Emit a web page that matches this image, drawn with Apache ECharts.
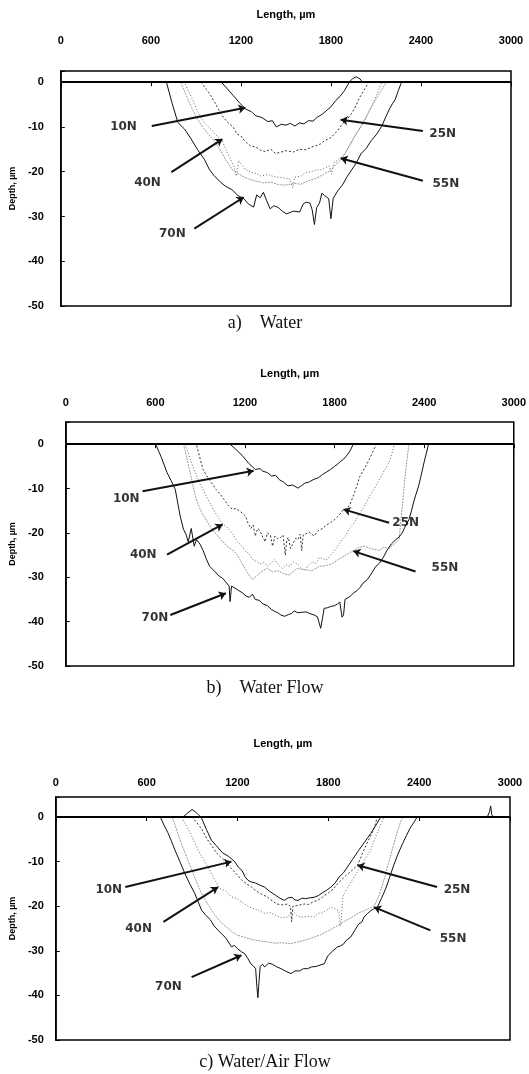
<!DOCTYPE html>
<html>
<head>
<meta charset="utf-8">
<script src="https://cdn.jsdelivr.net/npm/echarts@6/dist/echarts.min.js"></script>
<style>
html, body { margin: 0; padding: 0; background: #fff; }
#chart { width: 529px; height: 1074px; }
</style>
</head>
<body>
<div id="chart"></div>
<script>
// load cases, captions, axis ticks
var forceLabels = ["10N", "25N", "40N", "55N", "70N"];
var captions = ["a)    Water", "b)    Water Flow", "c) Water/Air Flow"];
var xTicks = [0, 600, 1200, 1800, 2400, 3000];
var yTicks = [-50, -40, -30, -20, -10, 0];

// a) Water  -- [length um, depth um]
var water10 = [[0,0],[1070,0],[1110,-1.5],[1150,-3],[1190,-4.6],[1232,-6],[1270,-6.6],[1300,-7.5],[1340,-7.9],[1380,-8.8],[1410,-8.6],[1436,-10],[1470,-9.4],[1500,-9.6],[1530,-9.2],[1560,-9.8],[1590,-9.1],[1620,-9.3],[1650,-8.6],[1680,-8.7],[1710,-7.8],[1745,-7.1],[1775,-6.2],[1800,-5.5],[1832,-4.1],[1860,-3.2],[1890,-1.9],[1922,0],[1945,0.8],[1970,1.2],[1995,0.7],[2010,0],[3000,0]];
var water25 = [[0,0],[934,0],[970,-1.6],[1000,-3],[1040,-5.4],[1075,-7.5],[1110,-8.9],[1150,-10.1],[1175,-11.6],[1200,-12],[1230,-13.3],[1263,-14.2],[1300,-14.5],[1330,-15.2],[1360,-15.5],[1400,-15],[1430,-15.9],[1460,-15.7],[1500,-15.3],[1550,-15.6],[1590,-15],[1634,-15.1],[1670,-14.5],[1700,-14.2],[1730,-13.8],[1760,-13],[1790,-12.6],[1811,-12],[1845,-10.8],[1876,-9.3],[1910,-8.2],[1942,-6.8],[1970,-5],[1990,-3.5],[2020,-1.8],[2052,0],[3000,0]];
var water40 = [[0,0],[825,0],[850,-2],[880,-4],[905,-6.1],[934,-8],[965,-9.4],[1000,-10.5],[1040,-12],[1075,-13],[1110,-15.8],[1153,-18.7],[1170,-21],[1185,-17.5],[1200,-18.2],[1230,-19.5],[1260,-20],[1300,-20.4],[1335,-21],[1380,-20.6],[1420,-21.1],[1470,-21.3],[1526,-21.6],[1545,-23.6],[1560,-21.2],[1600,-21],[1635,-20.2],[1668,-20],[1705,-19.6],[1740,-19.5],[1789,-18.7],[1805,-20.6],[1820,-18],[1850,-17.3],[1898,-15.7],[1930,-13.8],[1960,-12],[2000,-10],[2031,-8.3],[2060,-6],[2090,-4],[2115,-2],[2139,0],[3000,0]];
var water55 = [[0,0],[800,0],[830,-2.5],[860,-4.8],[900,-7.6],[940,-9.8],[980,-11.5],[1020,-13],[1060,-15],[1100,-17.4],[1150,-19.8],[1200,-20.8],[1250,-21.6],[1300,-22.1],[1350,-22.5],[1400,-22.3],[1450,-22.9],[1500,-23],[1550,-22.6],[1600,-22.8],[1650,-22],[1700,-21.5],[1750,-20.6],[1800,-19.6],[1850,-17.8],[1876,-17],[1910,-15],[1950,-12.6],[2000,-9.8],[2050,-6.8],[2100,-3.8],[2140,-1.6],[2170,0],[3000,0]];
var water70 = [[0,0],[704,0],[740,-4.5],[780,-9],[825,-10.5],[869,-12.7],[910,-15],[956,-17.2],[990,-19.5],[1022,-20.9],[1066,-22.4],[1100,-23.3],[1140,-24],[1180,-25.3],[1219,-26],[1250,-27.2],[1285,-27.9],[1305,-25.2],[1330,-25.8],[1350,-24.6],[1372,-26.5],[1395,-28.3],[1420,-27.6],[1450,-28],[1475,-28.8],[1503,-29.4],[1530,-29.1],[1550,-28.8],[1592,-29],[1615,-27.2],[1635,-26.8],[1660,-27],[1675,-28.5],[1690,-31.8],[1705,-28],[1724,-27],[1740,-24.8],[1756,-25.3],[1785,-26],[1800,-30.5],[1815,-26],[1845,-24.3],[1876,-23],[1910,-21],[1942,-19.4],[1970,-18],[2000,-16],[2035,-14.8],[2070,-13],[2105,-11.6],[2139,-9.8],[2165,-7.8],[2190,-6],[2210,-4.8],[2229,-3.8],[2250,-1.8],[2271,0],[3000,0]];

// b) Water Flow
var flow10 = [[0,0],[1100,0],[1140,-1.2],[1180,-2.5],[1225,-4.3],[1269,-5.7],[1300,-5.5],[1320,-6.1],[1350,-6.4],[1379,-7.2],[1405,-7],[1430,-8],[1460,-8.6],[1488,-9.4],[1520,-9.2],[1554,-9.9],[1580,-9.3],[1600,-8.8],[1630,-8.5],[1663,-7.9],[1690,-7.6],[1720,-6.8],[1745,-6.3],[1773,-5.7],[1800,-5],[1820,-4.5],[1840,-3.9],[1860,-3.4],[1880,-2.6],[1904,-1.5],[1925,0],[3000,0]];
var flow25 = [[0,0],[875,0],[895,-2.7],[919,-5.7],[940,-6.9],[960,-8],[985,-9.1],[1006,-10.2],[1035,-11.3],[1060,-12.5],[1090,-13.9],[1116,-14.7],[1140,-14.5],[1160,-15],[1185,-15.6],[1203,-16.2],[1220,-17.8],[1240,-19],[1255,-18.2],[1269,-20.7],[1285,-19],[1300,-19.5],[1320,-21],[1335,-22],[1350,-20],[1370,-20.5],[1385,-23],[1400,-20.7],[1420,-21.3],[1440,-21],[1455,-20.5],[1470,-25],[1480,-21.5],[1490,-21],[1505,-23.5],[1520,-22.5],[1540,-21.2],[1554,-21.5],[1570,-20.3],[1580,-24],[1590,-20.5],[1600,-20.5],[1630,-19.8],[1663,-20.7],[1690,-19.5],[1720,-19],[1745,-18.2],[1773,-17.7],[1800,-17],[1830,-16],[1860,-14.7],[1885,-14.5],[1904,-13.5],[1935,-10.8],[1970,-7.2],[2000,-5.5],[2030,-3.6],[2055,-1.8],[2079,0],[3000,0]];
var flow40 = [[0,0],[800,0],[825,-2.5],[850,-5],[875,-7],[900,-9],[930,-11],[960,-13],[1000,-15.4],[1050,-18],[1075,-18.6],[1100,-19.5],[1125,-20.6],[1150,-22],[1175,-22.8],[1200,-24],[1225,-24.6],[1250,-26],[1275,-26.4],[1300,-27],[1325,-26.6],[1350,-27.5],[1375,-26.8],[1400,-26],[1425,-27.3],[1450,-28],[1475,-27.2],[1500,-27.5],[1525,-26.6],[1550,-27],[1575,-27.8],[1600,-28.5],[1625,-27.3],[1650,-26.5],[1675,-26.9],[1700,-25.5],[1725,-25.9],[1750,-26],[1775,-25],[1800,-24],[1825,-22.8],[1850,-21.5],[1875,-20.6],[1900,-19],[1930,-17.8],[1960,-16],[2000,-14],[2035,-11.7],[2070,-9.8],[2100,-8],[2135,-5.8],[2166,-4],[2185,-2],[2200,0],[3000,0]];
var flow55 = [[0,0],[788,0],[810,-3],[830,-6],[850,-9],[870,-12],[895,-14.3],[920,-16],[960,-18.2],[1000,-20],[1040,-21.6],[1080,-23],[1115,-23.8],[1150,-25],[1175,-26.6],[1200,-28],[1225,-29.4],[1250,-30.5],[1275,-29.8],[1300,-29],[1325,-28.4],[1350,-28],[1385,-28.8],[1420,-28.5],[1460,-29.2],[1500,-29.5],[1525,-28.6],[1550,-28],[1600,-28.3],[1650,-28.5],[1700,-27.5],[1740,-27.4],[1780,-27],[1815,-26.2],[1850,-25.5],[1890,-24.7],[1926,-24],[1960,-23.3],[2000,-23],[2050,-23.6],[2100,-24],[2130,-23.2],[2166,-23.5],[2200,-22.5],[2232,-21.5],[2245,-17],[2255,-13.5],[2270,-8],[2285,-3.5],[2298,0],[3000,0]];
var flow70 = [[0,0],[602,0],[640,-3],[678,-6.4],[705,-8.2],[733,-10.2],[750,-13.3],[766,-16.2],[788,-19.2],[805,-20.3],[820,-22],[840,-19],[860,-23],[875,-21.5],[900,-22.6],[920,-24],[940,-25.8],[963,-27.5],[995,-28.6],[1029,-29.8],[1050,-30.2],[1070,-31],[1094,-32],[1100,-35.5],[1110,-32],[1140,-32.6],[1182,-33.5],[1210,-34.3],[1230,-34.5],[1250,-33.8],[1269,-35],[1295,-35.2],[1320,-36],[1350,-36.4],[1379,-37.3],[1400,-37.7],[1420,-38],[1440,-38.5],[1466,-38.8],[1490,-38.4],[1510,-38.2],[1530,-37.6],[1554,-38],[1580,-37.9],[1610,-37.8],[1635,-38.2],[1663,-38.5],[1685,-38.9],[1707,-41.5],[1720,-39],[1730,-37],[1750,-36.9],[1773,-36.6],[1800,-36.4],[1820,-36],[1835,-35.6],[1850,-39],[1860,-38.5],[1870,-35],[1904,-34.3],[1925,-33.6],[1950,-33],[1970,-32.3],[1991,-31.3],[2020,-30.5],[2050,-29],[2075,-27.6],[2101,-26.8],[2125,-25.6],[2150,-24],[2180,-22.5],[2210,-21.5],[2230,-21],[2253,-20],[2275,-18.4],[2298,-17],[2315,-15],[2330,-13],[2345,-11.3],[2363,-9.4],[2380,-7],[2400,-4],[2415,-2],[2429,0],[3000,0]];

// c) Water/Air Flow
var air10 = [[0,0],[840,0],[870,0.9],[900,1.7],[925,1.1],[945,0.4],[960,0],[995,-2.8],[1028,-5.2],[1060,-6.4],[1100,-8],[1140,-8.8],[1182,-10],[1205,-11.2],[1230,-12],[1250,-13.4],[1270,-14.2],[1295,-14.6],[1320,-14.8],[1350,-15.3],[1379,-15.7],[1410,-16.6],[1450,-17.5],[1480,-18.2],[1510,-18.7],[1535,-18.1],[1560,-18],[1580,-18.6],[1600,-18.7],[1625,-18.2],[1650,-18.3],[1680,-18.1],[1707,-18],[1735,-17.6],[1760,-17],[1790,-16.4],[1817,-15.7],[1845,-14.8],[1870,-13.5],[1900,-12.5],[1926,-11.2],[1960,-9.5],[2000,-7.5],[2040,-5.6],[2080,-3.7],[2115,-1.8],[2146,0],[3000,0]];
var air25 = [[0,0],[900,0],[930,-1.2],[960,-2.5],[1000,-5],[1030,-6.4],[1060,-8],[1090,-9],[1120,-10],[1160,-11.6],[1200,-13],[1230,-14.2],[1260,-15],[1290,-15.6],[1320,-16.5],[1360,-17.3],[1400,-18],[1430,-18.8],[1460,-19.5],[1500,-19.7],[1530,-19.5],[1550,-20],[1558,-23.5],[1566,-20],[1600,-19.8],[1640,-19.5],[1670,-19.6],[1700,-19],[1730,-18.7],[1760,-18],[1800,-17],[1830,-16.2],[1860,-15],[1890,-14],[1920,-13],[1955,-12],[1993,-10.8],[2015,-9],[2040,-7],[2065,-5.2],[2090,-3.5],[2110,-1.6],[2124,0],[3000,0]];
var air40 = [[0,0],[831,0],[855,-1.5],[880,-3],[910,-5.2],[941,-7.4],[970,-9.2],[1000,-11],[1040,-13.5],[1083,-16],[1120,-16.5],[1160,-17.9],[1190,-18.2],[1226,-19],[1260,-19.8],[1300,-20.5],[1340,-20.9],[1379,-21.6],[1415,-21.4],[1450,-22],[1490,-22.6],[1532,-22.4],[1560,-21],[1590,-22],[1620,-22.5],[1660,-22.3],[1707,-22.4],[1735,-21.6],[1760,-21.5],[1790,-20.9],[1817,-20.2],[1845,-20.6],[1870,-21],[1878,-24.5],[1886,-23],[1895,-18],[1904,-17.2],[1930,-15.7],[1960,-14],[1985,-12.6],[2014,-11.2],[2045,-9.3],[2080,-7.4],[2105,-5],[2130,-3],[2150,-1.4],[2168,0],[3000,0]];
var air55 = [[0,0],[770,0],[800,-3],[830,-6],[865,-9],[900,-12],[930,-14.6],[960,-17],[1000,-19.3],[1040,-21.5],[1080,-23.2],[1120,-24.5],[1160,-25.6],[1200,-26.5],[1250,-27],[1300,-27.5],[1350,-27.8],[1400,-28],[1450,-28.3],[1500,-28.2],[1550,-28.4],[1600,-28],[1650,-27.6],[1700,-27],[1750,-26.4],[1800,-25.5],[1850,-24.6],[1900,-23.5],[1950,-22.6],[2000,-21.5],[2050,-20.8],[2102,-20],[2135,-17.6],[2160,-15],[2180,-12.6],[2200,-10],[2225,-7],[2250,-4],[2270,-1.8],[2290,0],[3000,0]];
var air70 = [[0,0],[690,0],[715,-1.8],[740,-3.5],[765,-5.5],[787,-7.4],[820,-10],[853,-12.7],[885,-15],[919,-17.2],[940,-19],[963,-20.9],[990,-22],[1020,-23],[1045,-24.4],[1072,-25.4],[1095,-26.2],[1120,-27],[1140,-28],[1160,-29.1],[1180,-28.8],[1200,-29.5],[1225,-30.2],[1247,-30.6],[1270,-31.8],[1290,-33],[1305,-33.4],[1320,-34],[1328,-38],[1335,-40.5],[1342,-37],[1350,-33.5],[1365,-33],[1379,-33.6],[1405,-32.8],[1430,-33],[1460,-33.6],[1488,-34],[1520,-34.6],[1554,-35.1],[1580,-34.5],[1610,-34.5],[1635,-34],[1663,-34],[1690,-33.6],[1720,-33.5],[1745,-33.2],[1773,-32.9],[1790,-31.6],[1800,-31],[1830,-30],[1861,-29.1],[1880,-28.9],[1900,-28.5],[1920,-27.6],[1948,-26.9],[1975,-25.4],[2000,-24],[2020,-23.6],[2036,-22.4],[2060,-21.6],[2080,-21],[2100,-20.6],[2124,-20.2],[2150,-18.3],[2180,-16],[2205,-13.5],[2230,-11],[2260,-8.3],[2290,-6],[2315,-4.2],[2340,-2.5],[2365,-1.2],[2387,0],[2850,0],[2865,1.2],[2872,2.5],[2880,0.5],[2890,0],[3000,0]];

// label anchor [x, y] and arrow [fromX, fromY, toX, toY] in data units, order as forceLabels
var labelsA = [[418,-10],[2545,-11.6],[578,-22.4],[2566,-22.7],[743,-33.8]];
var arrowsA = [[606,-9.8,1230,-5.7],[2413,-10.9,1865,-8.4],[737,-20.1,1077,-12.7],[2413,-22,1865,-17],[890,-32.7,1219,-25.7]];
var labelsB = [[405,-12.3],[2276,-17.7],[519,-24.9],[2539,-27.9],[597,-39.2]];
var arrowsB = [[514,-10.6,1258,-6],[2165,-17.7,1860,-14.7],[678,-24.9,1050,-18.1],[2342,-28.7,1926,-24.1],[700,-38.5,1072,-33.6]];
var labelsC = [[350,-16.4],[2650,-16.4],[547,-25],[2624,-27.3],[744,-38.1]];
var arrowsC = [[459,-15.7,1160,-10],[2518,-15.7,1993,-10.8],[711,-23.5,1072,-15.7],[2474,-25.4,2102,-20.2],[897,-35.9,1226,-31]];

var panels = [
	{ series: [water10, water25, water40, water55, water70], labels: labelsA, arrows: arrowsA },
	{ series: [flow10, flow25, flow40, flow55, flow70], labels: labelsB, arrows: arrowsB },
	{ series: [air10, air25, air40, air55, air70], labels: labelsC, arrows: arrowsC },
];

// layout of the three stacked plots
var layout = [
	{ left: 54.5, top: 71, width: 456.5, height: 235, yMax: 2.5, xMargin: 25, xNameGap: 51, yMargin: 17, yNameGap: 41, captionY: 323 },
	{ left: 60, top: 422, width: 457, height: 244, yMax: 5, xMargin: 14, xNameGap: 43, yMargin: 22, yNameGap: 40, captionY: 688 },
	{ left: 53.5, top: 797, width: 456.5, height: 243, yMax: 4.5, xMargin: 9, xNameGap: 48, yMargin: 12, yNameGap: 37, captionY: 1062 },
];
var lineStyles = [
	{ color: "#111", width: 1, type: "solid" },
	{ color: "#333", width: 1, type: [2, 2] },
	{ color: "#666", width: 1, type: [1, 2] },
	{ color: "#999", width: 1, type: [2, 1] },
	{ color: "#111", width: 1, type: "solid" },
];

var axisFont = { color: "#000", fontFamily: "Liberation Sans", fontWeight: "bold", fontSize: 11 };

var chart = echarts.init(document.getElementById("chart"));
var option = { animation: false, grid: [], xAxis: [], yAxis: [], series: [], graphic: [] };

layout.forEach(function (l, i) {
	option.grid.push({ left: l.left, top: l.top, width: l.width, height: l.height, show: true, borderColor: "#000", borderWidth: 1.5, backgroundColor: "#fff" });
	option.xAxis.push({
		gridIndex: i, type: "value", position: "top",
		min: xTicks[0], max: xTicks[xTicks.length - 1], interval: xTicks[1] - xTicks[0],
		name: "Length, µm", nameLocation: "middle", nameGap: l.xNameGap,
		nameTextStyle: { color: "#000", fontFamily: "Liberation Sans", fontWeight: "bold", fontSize: 11 },
		axisLine: { show: true, lineStyle: { color: "#000", width: 1.5 } },
		axisTick: { show: true, inside: true, length: 4, lineStyle: { color: "#000" } },
		axisLabel: Object.assign({
			margin: l.xMargin,
			formatter: function (v) { return String(v); },
		}, axisFont),
		splitLine: { show: false },
	});
	option.yAxis.push({
		gridIndex: i, type: "value",
		min: yTicks[0], max: l.yMax, interval: yTicks[1] - yTicks[0],
		name: "Depth, µm", nameLocation: "middle", nameGap: l.yNameGap, nameRotate: 90,
		nameTextStyle: { color: "#000", fontFamily: "Liberation Sans", fontWeight: "bold", fontSize: 9 },
		axisLine: { show: true, lineStyle: { color: "#000", width: 1.5 } },
		axisTick: { show: true, inside: true, length: 4, lineStyle: { color: "#000" } },
		axisLabel: Object.assign({
			margin: l.yMargin,
			formatter: function (v) { return yTicks.indexOf(v) >= 0 ? String(v) : ""; },
		}, axisFont),
		splitLine: { show: false },
	});

	var p = panels[i];
	p.series.forEach(function (d, k) {
		var s = {
			name: forceLabels[k], type: "line", xAxisIndex: i, yAxisIndex: i,
			data: d, showSymbol: false, silent: true, lineStyle: lineStyles[k], z: k === 2 || k === 3 ? 2 : 3,
		};
		if (k === 4) {
			// surface line, drawn heavier like the overlapped traces
			s.markLine = {
				silent: true, symbol: "none", label: { show: false },
				lineStyle: { color: "#000", width: 2, type: "solid" },
				data: [[{ coord: [xTicks[0], 0] }, { coord: [xTicks[xTicks.length - 1], 0] }]],
			};
		}
		option.series.push(s);
	});

	// load labels + arrows
	option.series.push({
		type: "scatter", xAxisIndex: i, yAxisIndex: i, silent: true, z: 5,
		symbolSize: 1, itemStyle: { color: "rgba(0,0,0,0)" },
		label: { show: true, position: "inside", formatter: "{b}", color: "#000", fontFamily: "DejaVu Sans", fontWeight: "bold", fontSize: 12 },
		data: p.labels.map(function (pt, k) { return { name: forceLabels[k], value: pt }; }),
		markLine: {
			silent: true, symbol: ["none", "arrow"], symbolSize: 7, label: { show: false },
			lineStyle: { color: "#111", width: 2, type: "solid" },
			data: p.arrows.map(function (a) { return [{ coord: [a[0], a[1]] }, { coord: [a[2], a[3]] }]; }),
		},
	});

	option.graphic.push({
		type: "text", x: 265, y: l.captionY, silent: true,
		style: { text: captions[i], fill: "#111", fontFamily: "Liberation Serif", fontSize: 18, align: "center", verticalAlign: "middle" },
	});
});

chart.setOption(option);
</script>
</body>
</html>
